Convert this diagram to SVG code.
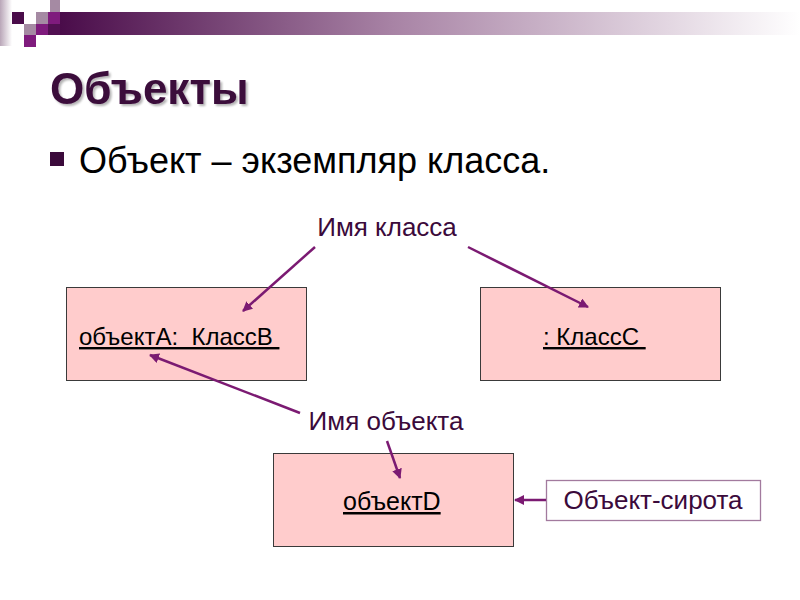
<svg xmlns="http://www.w3.org/2000/svg" width="800" height="600" viewBox="0 0 800 600">
<defs>
<linearGradient id="bar" x1="0" y1="0" x2="1" y2="0">
<stop offset="0" stop-color="#4a0c4a"/>
<stop offset="0.45" stop-color="#a883a5"/>
<stop offset="1" stop-color="#ffffff"/>
</linearGradient>
<linearGradient id="strip" x1="0" y1="0" x2="1" y2="0">
<stop offset="0" stop-color="#b9a6b8"/>
<stop offset="1" stop-color="#ffffff"/>
</linearGradient>
<marker id="ah" viewBox="0 0 10 10" refX="9" refY="5" markerWidth="4" markerHeight="4" orient="auto" markerUnits="strokeWidth">
<path d="M0,0 L10,5 L0,10 z" fill="#7b1a72"/>
</marker>
<filter id="sh" x="-5%" y="-5%" width="115%" height="130%">
<feGaussianBlur in="SourceAlpha" stdDeviation="1.2"/>
<feOffset dx="2" dy="2" result="b"/>
<feComponentTransfer><feFuncA type="linear" slope="0.3"/></feComponentTransfer>
<feMerge><feMergeNode/><feMergeNode in="SourceGraphic"/></feMerge>
</filter>
</defs>
<style>
.box{fill:#ffcccc;stroke:#3a3a3a;stroke-width:1}
.t{font-family:"Liberation Sans",Arial,sans-serif;fill:#000;white-space:pre}
.u{text-decoration:underline}
.lbl{font-family:"Liberation Sans",Arial,sans-serif;fill:#3b0a3b;font-size:26px}
.conn{stroke:#7b1a72;stroke-width:2.5;fill:none;marker-end:url(#ah)}
</style>
<rect width="800" height="600" fill="#ffffff"/>
<g id="decor">
<rect x="0" y="0" width="12" height="46" fill="url(#strip)"/>
<rect x="60" y="12" width="740" height="23" fill="url(#bar)"/>
<rect x="50" y="0" width="10" height="12" fill="#a58aa3"/>
<rect x="12" y="12" width="12" height="12" fill="#4a0c4a"/>
<rect x="36" y="12" width="12" height="12" fill="#a58aa3"/>
<rect x="48" y="12" width="12" height="12" fill="#7f1b7d"/>
<rect x="24" y="24" width="12" height="11" fill="#a58aa3"/>
<rect x="36" y="24" width="12" height="11" fill="#7f1b7d"/>
<rect x="48" y="24" width="12" height="11" fill="#521052"/>
<rect x="24" y="35" width="12" height="12" fill="#7f1b7d"/>
</g>
<text x="50" y="104" font-family="Liberation Sans,Arial,sans-serif" font-weight="bold" font-size="44" fill="#3b0a3b" filter="url(#sh)">Объекты</text>
<rect x="50" y="152" width="14" height="14" fill="#3b0a3b"/>
<text class="t" x="79" y="173" font-size="36">Объект – экземпляр класса.</text>
<g id="lblClass"><text class="lbl" x="387" y="236" text-anchor="middle">Имя класса</text></g>
<g id="lblObj"><text class="lbl" x="386" y="430" text-anchor="middle">Имя объекта</text></g>
<g id="nodeA">
<rect class="box" x="66.5" y="287.5" width="240" height="93"/>
<text class="t u" x="79" y="345" font-size="24">объектА:  КлассВ </text>
</g>
<g id="nodeC">
<rect class="box" x="480.5" y="287.5" width="240" height="93"/>
<text class="t u" x="543" y="345" font-size="24">: КлассС </text>
</g>
<g id="nodeD">
<rect class="box" x="273.5" y="453.5" width="240" height="93"/>
<text class="t u" x="343" y="510" font-size="25">объектD</text>
</g>
<g id="orphan">
<rect x="546.5" y="480.5" width="214" height="40" fill="#ffffff" stroke="#a27a9e" stroke-width="1.3"/>
<text class="lbl" x="653" y="509" text-anchor="middle">Объект-сирота</text>
</g>
<g id="connectors">
<line class="conn" x1="315" y1="247" x2="243" y2="311"/>
<line class="conn" x1="468" y1="247" x2="588" y2="307"/>
<line class="conn" x1="300" y1="413" x2="150" y2="355"/>
<line class="conn" x1="387" y1="441" x2="400" y2="478"/>
<line class="conn" x1="546" y1="500" x2="515" y2="500"/>
</g>
</svg>
